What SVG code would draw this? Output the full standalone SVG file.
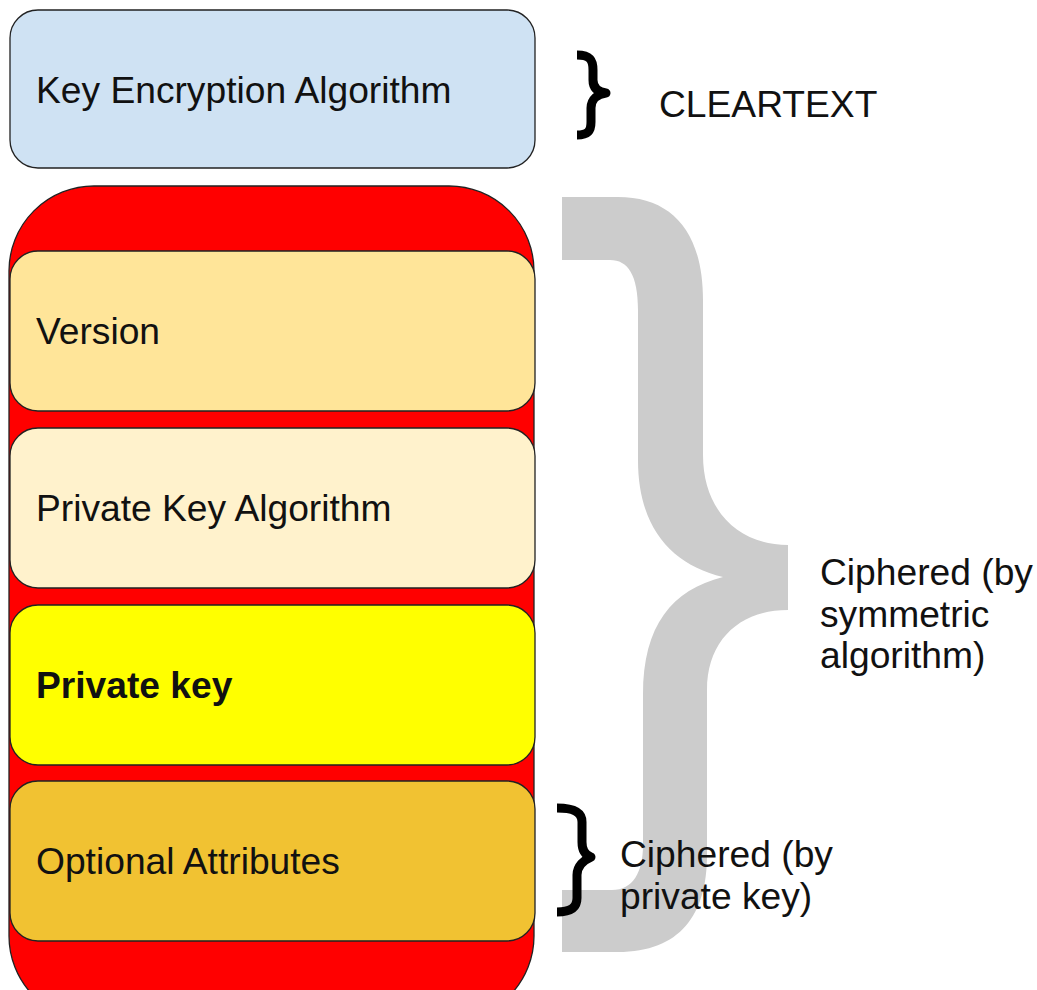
<svg xmlns="http://www.w3.org/2000/svg" width="1037" height="990" viewBox="0 0 1037 990">
  <style>
    .box { stroke: #222; stroke-width: 1.3; }
    .lbl { font-family: "Liberation Sans", Arial, sans-serif; font-size: 37.2px; fill: #111; }
    .brace { fill: none; stroke: #000; stroke-width: 9; stroke-linecap: butt; stroke-linejoin: round; }
  </style>
  <rect width="1037" height="990" fill="#fff"/>

  <g id="gray-brace">
    <path fill="#cccccc" d="M 562,197 L 618,197 C 672,197 703,232 703,300 L 703,455 C 703,510 738,545 788,545 L 788,610 C 740,610 707,640 707,690 L 707,855 C 707,915 680,952 618,952 L 562,952 L 562,890 L 612,890 C 633,890 643,872 643,845 L 643,695 C 643,625 672,590 723,577 C 672,565 638,528 638,460 L 638,310 C 638,275 628,260 610,260 L 562,260 Z"/>
  </g>

  <g id="key-encryption-algorithm">
    <rect class="box" x="10" y="10" width="525" height="158" rx="28" fill="#cfe2f3"/>
    <text class="lbl" x="36" y="103">Key Encryption Algorithm</text>
  </g>

  <g id="container">
    <rect class="box" x="9" y="186" width="525" height="835" rx="85" fill="#ff0000"/>
  </g>

  <g id="version">
    <rect class="box" x="10" y="251" width="525" height="160" rx="28" fill="#ffe599"/>
    <text class="lbl" x="36" y="344">Version</text>
  </g>

  <g id="private-key-algorithm">
    <rect class="box" x="10" y="428" width="525" height="160" rx="28" fill="#fff2cc"/>
    <text class="lbl" x="36" y="521">Private Key Algorithm</text>
  </g>

  <g id="private-key">
    <rect class="box" x="10" y="605" width="525" height="160" rx="28" fill="#ffff00"/>
    <text class="lbl" x="36" y="698" font-weight="bold">Private key</text>
  </g>

  <g id="optional-attributes">
    <rect class="box" x="10" y="781" width="525" height="160" rx="28" fill="#f1c232"/>
    <text class="lbl" x="36" y="874">Optional Attributes</text>
  </g>

  <g id="cleartext-brace">
    <path class="brace" d="M 577,55 C 590,55 593,60 593,70 L 593,80 C 593,88 598,92 606,93 C 598,94 591,99 591,108 L 591,122 C 591,131 588,135 577,135"/>
    <text class="lbl" x="659" y="117">CLEARTEXT</text>
  </g>

  <g id="symmetric-label">
    <text class="lbl" x="820" y="585">Ciphered (by</text>
    <text class="lbl" x="820" y="627">symmetric</text>
    <text class="lbl" x="820" y="668">algorithm)</text>
  </g>

  <g id="private-key-brace">
    <path class="brace" d="M 557,808 C 572,808 582,811 582,822 L 582,842 C 582,850 585,855 591,857 C 584,860 577,866 577,875 L 577,898 C 577,908 570,912 557,912"/>
    <text class="lbl" x="620" y="867">Ciphered (by</text>
    <text class="lbl" x="620" y="909">private key)</text>
  </g>
</svg>
